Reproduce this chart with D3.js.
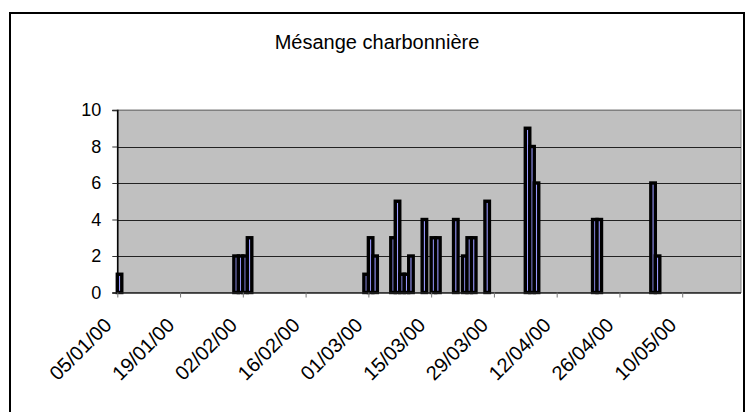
<!DOCTYPE html>
<html>
<head>
<meta charset="utf-8">
<script src="https://cdn.jsdelivr.net/npm/d3@7"></script>
<style>
  html, body { margin: 0; padding: 0; background: #fff; }
  svg { display: block; font-family: "Liberation Sans", Arial, sans-serif; }
</style>
</head>
<body>
<svg id="chart" width="747" height="412"></svg>
<script>
// Observation dates and counts (dd/mm/yy)
const dates = [
  "05/01/00", "31/01/00", "01/02/00", "02/02/00", "03/02/00",
  "29/02/00", "01/03/00", "02/03/00", "06/03/00", "07/03/00",
  "08/03/00", "09/03/00", "10/03/00", "13/03/00", "15/03/00",
  "16/03/00", "20/03/00", "22/03/00", "23/03/00", "24/03/00",
  "27/03/00", "05/04/00", "06/04/00", "07/04/00", "20/04/00",
  "21/04/00", "03/05/00", "04/05/00"
];
const counts = [
  1, 2, 2, 2, 3,
  1, 3, 2, 3, 5,
  1, 1, 2, 4, 3,
  3, 4, 2, 3, 3,
  5, 9, 8, 6, 4,
  4, 6, 2
];
const xTickLabels = [
  "05/01/00", "19/01/00", "02/02/00", "16/02/00", "01/03/00",
  "15/03/00", "29/03/00", "12/04/00", "26/04/00", "10/05/00"
];
const yTicks = [0, 2, 4, 6, 8, 10];
const title = "Mésange charbonnière";

const parse = d3.timeParse("%d/%m/%y");
const svg = d3.select("#chart");

const plot = { left: 117.3, right: 740.5, top: 110, bottom: 292.5 };

const x = d3.scaleTime()
  .domain([parse("05/01/00"), parse("23/05/00")])
  .range([plot.left, plot.right]);
const y = d3.scaleLinear()
  .domain([0, 10])
  .range([plot.bottom, plot.top]);

// Outer chart frame
svg.append("path")
  .attr("d", "M10,412 L10,13 L744,13 L744,412")
  .attr("fill", "none")
  .attr("stroke", "#000")
  .attr("stroke-width", 2);

// Title
svg.append("text")
  .attr("x", 377)
  .attr("y", 49)
  .attr("text-anchor", "middle")
  .attr("font-size", 20)
  .attr("fill", "#000")
  .text(title);

// Plot background
svg.append("rect")
  .attr("x", plot.left)
  .attr("y", plot.top)
  .attr("width", plot.right - plot.left + 0.5)
  .attr("height", plot.bottom - plot.top)
  .attr("fill", "#c0c0c0")
  .attr("stroke", "#808080")
  .attr("stroke-width", 1);

// Horizontal gridlines
svg.append("g")
  .selectAll("line")
  .data(yTicks.filter(v => v > 0))
  .join("line")
  .attr("x1", plot.left)
  .attr("x2", plot.right + 0.5)
  .attr("y1", d => Math.round(y(d)) + 0.5)
  .attr("y2", d => Math.round(y(d)) + 0.5)
  .attr("stroke", d => d === 10 ? "#808080" : "#222")
  .attr("stroke-width", 1);

// Bars, one day wide each
const data = dates.map((d, i) => ({ date: parse(d), value: counts[i] }));
svg.append("g")
  .selectAll("rect")
  .data(data)
  .join("rect")
  .attr("x", d => x(d.date))
  .attr("y", d => y(d.value))
  .attr("width", d => x(d3.timeDay.offset(d.date, 1)) - x(d.date))
  .attr("height", d => y(0) - y(d.value))
  .attr("fill", "#9999ff")
  .attr("stroke", "#000")
  .attr("stroke-width", 3.4);

// Y axis
const yAxis = d3.axisLeft(y)
  .tickValues(yTicks)
  .tickSize(5)
  .tickPadding(11)
  .tickFormat(d3.format("d"));
const gy = svg.append("g")
  .attr("transform", `translate(${plot.left},0)`)
  .call(yAxis);
gy.select(".domain").attr("stroke", "#000").attr("stroke-width", 1.5);
gy.selectAll(".tick line").attr("stroke", "#333");
gy.selectAll(".tick text")
  .attr("font-size", 18)
  .attr("font-family", "Liberation Sans, Arial, sans-serif")
  .attr("fill", "#000");

// X axis with diagonal date labels
const xAxis = d3.axisBottom(x)
  .tickValues(xTickLabels.map(parse))
  .tickSize(5)
  .tickSizeOuter(0)
  .tickFormat(d3.timeFormat("%d/%m/%y"));
const gx = svg.append("g")
  .attr("transform", `translate(0,${plot.bottom})`)
  .call(xAxis);
gx.select(".domain").attr("stroke", "#222").attr("stroke-width", 1.5);
gx.selectAll(".tick line").attr("stroke", "#777");
gx.selectAll(".tick text")
  .attr("font-size", 20)
  .attr("font-family", "Liberation Sans, Arial, sans-serif")
  .attr("fill", "#000")
  .attr("text-anchor", "end")
  .attr("dy", null)
  .attr("y", 0)
  .attr("transform", "translate(-5,34) rotate(-45)");
</script>
</body>
</html>
